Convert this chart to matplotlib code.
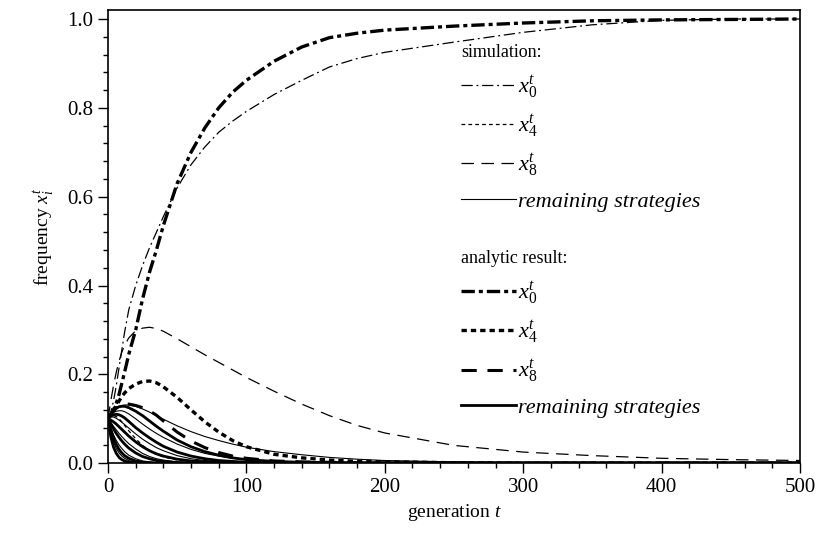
import numpy as np
import matplotlib
matplotlib.use("Agg")
import matplotlib.pyplot as plt
from matplotlib.ticker import MultipleLocator
from matplotlib.lines import Line2D

plt.rcParams['font.family'] = ['Liberation Serif', 'DejaVu Serif']
plt.rcParams['mathtext.fontset'] = 'custom'
plt.rcParams['mathtext.rm'] = 'Liberation Serif'
plt.rcParams['mathtext.it'] = 'Liberation Serif:italic'

t = [0, 2, 4, 6, 8, 10, 12, 15, 20, 25, 30, 35, 40, 50, 60, 70, 80, 90, 100,
     120, 140, 160, 180, 200, 250, 300, 350, 400, 450, 500]

def pad(v):
    # curves that have died out stay at zero
    return v + [0.0] * (len(t) - len(v))

# simulation
sim_x0 = [0.10, 0.115, 0.14, 0.175, 0.215, 0.255, 0.295, 0.345, 0.40, 0.445,
          0.485, 0.52, 0.555, 0.62, 0.672, 0.712, 0.745, 0.77, 0.792, 0.83,
          0.862, 0.892, 0.911, 0.925, 0.948, 0.970, 0.987, 0.997, 1.0, 1.0]
sim_x4 = pad([0.10, 0.105, 0.107, 0.105, 0.10, 0.093, 0.085, 0.073, 0.055, 0.04,
              0.028, 0.02, 0.014, 0.007, 0.003, 0.001])
sim_x8 = [0.10, 0.14, 0.175, 0.205, 0.23, 0.25, 0.265, 0.282, 0.298, 0.304,
          0.306, 0.303, 0.297, 0.28, 0.262, 0.244, 0.227, 0.21, 0.193, 0.162,
          0.133, 0.107, 0.085, 0.068, 0.04, 0.025, 0.017, 0.011, 0.008, 0.006]
sim_rest = [
    pad([0.10, 0.112, 0.12, 0.125, 0.128, 0.13, 0.131, 0.131, 0.128, 0.122, 0.115,
         0.107, 0.099, 0.084, 0.071, 0.06, 0.051, 0.043, 0.036, 0.026, 0.019,
         0.013, 0.009, 0.006, 0.003, 0.001]),
    pad([0.10, 0.108, 0.114, 0.117, 0.118, 0.118, 0.116, 0.111, 0.10, 0.088, 0.077,
         0.067, 0.058, 0.043, 0.031, 0.022, 0.016, 0.011, 0.008, 0.004, 0.002, 0.001]),
    pad([0.10, 0.104, 0.104, 0.101, 0.097, 0.092, 0.087, 0.079, 0.066, 0.054, 0.044,
         0.035, 0.028, 0.017, 0.01, 0.006, 0.003, 0.002, 0.001]),
    pad([0.10, 0.092, 0.083, 0.075, 0.067, 0.06, 0.053, 0.044, 0.032, 0.022, 0.015,
         0.01, 0.007, 0.003, 0.001]),
    pad([0.10, 0.08, 0.064, 0.051, 0.041, 0.033, 0.026, 0.018, 0.01, 0.005, 0.003,
         0.001]),
    pad([0.10, 0.07, 0.048, 0.033, 0.023, 0.016, 0.011, 0.006, 0.002, 0.001]),
]

# analytic result
ana_x0 = [0.10, 0.11, 0.12, 0.135, 0.155, 0.18, 0.205, 0.245, 0.30, 0.37,
          0.43, 0.48, 0.535, 0.63, 0.70, 0.755, 0.80, 0.835, 0.862, 0.905,
          0.937, 0.958, 0.968, 0.975, 0.984, 0.991, 0.996, 0.998, 0.999, 1.0]
ana_x4 = pad([0.10, 0.11, 0.12, 0.13, 0.14, 0.15, 0.158, 0.168, 0.178, 0.184,
              0.185, 0.181, 0.172, 0.148, 0.12, 0.093, 0.07, 0.051, 0.037, 0.02,
              0.012, 0.007, 0.004, 0.003, 0.001])
ana_x8 = pad([0.10, 0.11, 0.118, 0.124, 0.128, 0.131, 0.133, 0.133, 0.13, 0.125,
              0.118, 0.108, 0.095, 0.07, 0.05, 0.035, 0.024, 0.016, 0.011, 0.005,
              0.003, 0.002, 0.001])
ana_rest = [
    pad([0.10, 0.11, 0.118, 0.124, 0.127, 0.128, 0.128, 0.125, 0.117, 0.107, 0.095,
         0.083, 0.072, 0.052, 0.037, 0.026, 0.018, 0.012, 0.008, 0.004, 0.002, 0.001]),
    pad([0.10, 0.106, 0.109, 0.11, 0.109, 0.106, 0.102, 0.094, 0.08, 0.068, 0.057,
         0.047, 0.038, 0.025, 0.016, 0.01, 0.006, 0.004, 0.002, 0.001]),
    pad([0.10, 0.097, 0.093, 0.088, 0.082, 0.076, 0.07, 0.061, 0.048, 0.037, 0.028,
         0.021, 0.016, 0.009, 0.005, 0.003, 0.001]),
    pad([0.10, 0.088, 0.077, 0.067, 0.058, 0.05, 0.043, 0.034, 0.023, 0.015, 0.01,
         0.006, 0.004, 0.001]),
    pad([0.10, 0.075, 0.056, 0.042, 0.031, 0.023, 0.017, 0.011, 0.005, 0.002, 0.001]),
    pad([0.10, 0.06, 0.036, 0.022, 0.013, 0.008, 0.005, 0.002, 0.001]),
]

labels = [r'$x_{\mathit{0}}^{t}$', r'$x_{\mathit{4}}^{t}$', r'$x_{\mathit{8}}^{t}$',
          'remaining strategies']

# line styles: thin for simulation, thick for analytic
sim_styles = [dict(lw=0.9, ls=(0, (9, 3, 1.5, 3))),
              dict(lw=0.9, ls=(0, (3, 2.5))),
              dict(lw=0.9, ls=(0, (10, 6))),
              dict(lw=0.8, ls='-')]
ana_styles = [dict(lw=2.4, ls=(0, (4, 1.2, 1.2, 1.2))),
              dict(lw=2.4, ls=(0, (1.6, 1.2))),
              dict(lw=2.2, ls=(0, (5, 3.5))),
              dict(lw=2.0, ls='-')]

fig = plt.figure(figsize=(8.2, 5.33), dpi=100)
ax = fig.add_axes([0.1317, 0.131, 0.8439, 0.85])

for ys in sim_rest:
    ax.plot(t, ys, color='black', **sim_styles[3])
for ys in ana_rest:
    ax.plot(t, ys, color='black', **ana_styles[3])
for ys, st in zip([sim_x0, sim_x4, sim_x8], sim_styles[:3]):
    ax.plot(t, ys, color='black', **st)
for ys, st in zip([ana_x0, ana_x4, ana_x8], ana_styles[:3]):
    ax.plot(t, ys, color='black', **st)

ax.set_xlim(0, 500)
ax.set_ylim(0, 1.02)
ax.xaxis.set_major_locator(MultipleLocator(100))
ax.xaxis.set_minor_locator(MultipleLocator(20))
ax.yaxis.set_major_locator(MultipleLocator(0.2))
ax.yaxis.set_minor_locator(MultipleLocator(0.04))
ax.yaxis.set_major_formatter(plt.FormatStrFormatter('%.1f'))
ax.tick_params(which='both', direction='out', top=False, right=False,
               labelsize=15, width=1)
ax.tick_params(which='major', length=7)
ax.tick_params(which='minor', length=3.5)
for sp in ax.spines.values():
    sp.set_linewidth(1.2)

ax.set_xlabel('generation $t$', fontsize=14, labelpad=4)
ax.set_ylabel('frequency $x_i^t$', fontsize=14, labelpad=8)

item_font = {'family': 'Liberation Serif', 'style': 'italic', 'size': 16}

sim_handles = [Line2D([], [], color='black', **st) for st in sim_styles]
ana_handles = [Line2D([], [], color='black', **st) for st in ana_styles]

leg1 = ax.legend(sim_handles, labels, title='simulation:', loc='upper left',
                 bbox_to_anchor=(0.51, 0.925), frameon=False, prop=item_font,
                 title_fontsize=13, alignment='left', handlelength=2.5,
                 handletextpad=0.05, labelspacing=0.55, borderpad=0,
                 borderaxespad=0)
ax.add_artist(leg1)
ax.legend(ana_handles, labels, title='analytic result:', loc='upper left',
          bbox_to_anchor=(0.51, 0.47), frameon=False, prop=item_font,
          title_fontsize=13, alignment='left', handlelength=2.5,
          handletextpad=0.05, labelspacing=0.55, borderpad=0, borderaxespad=0)

fig.savefig('out.png', dpi=100)
